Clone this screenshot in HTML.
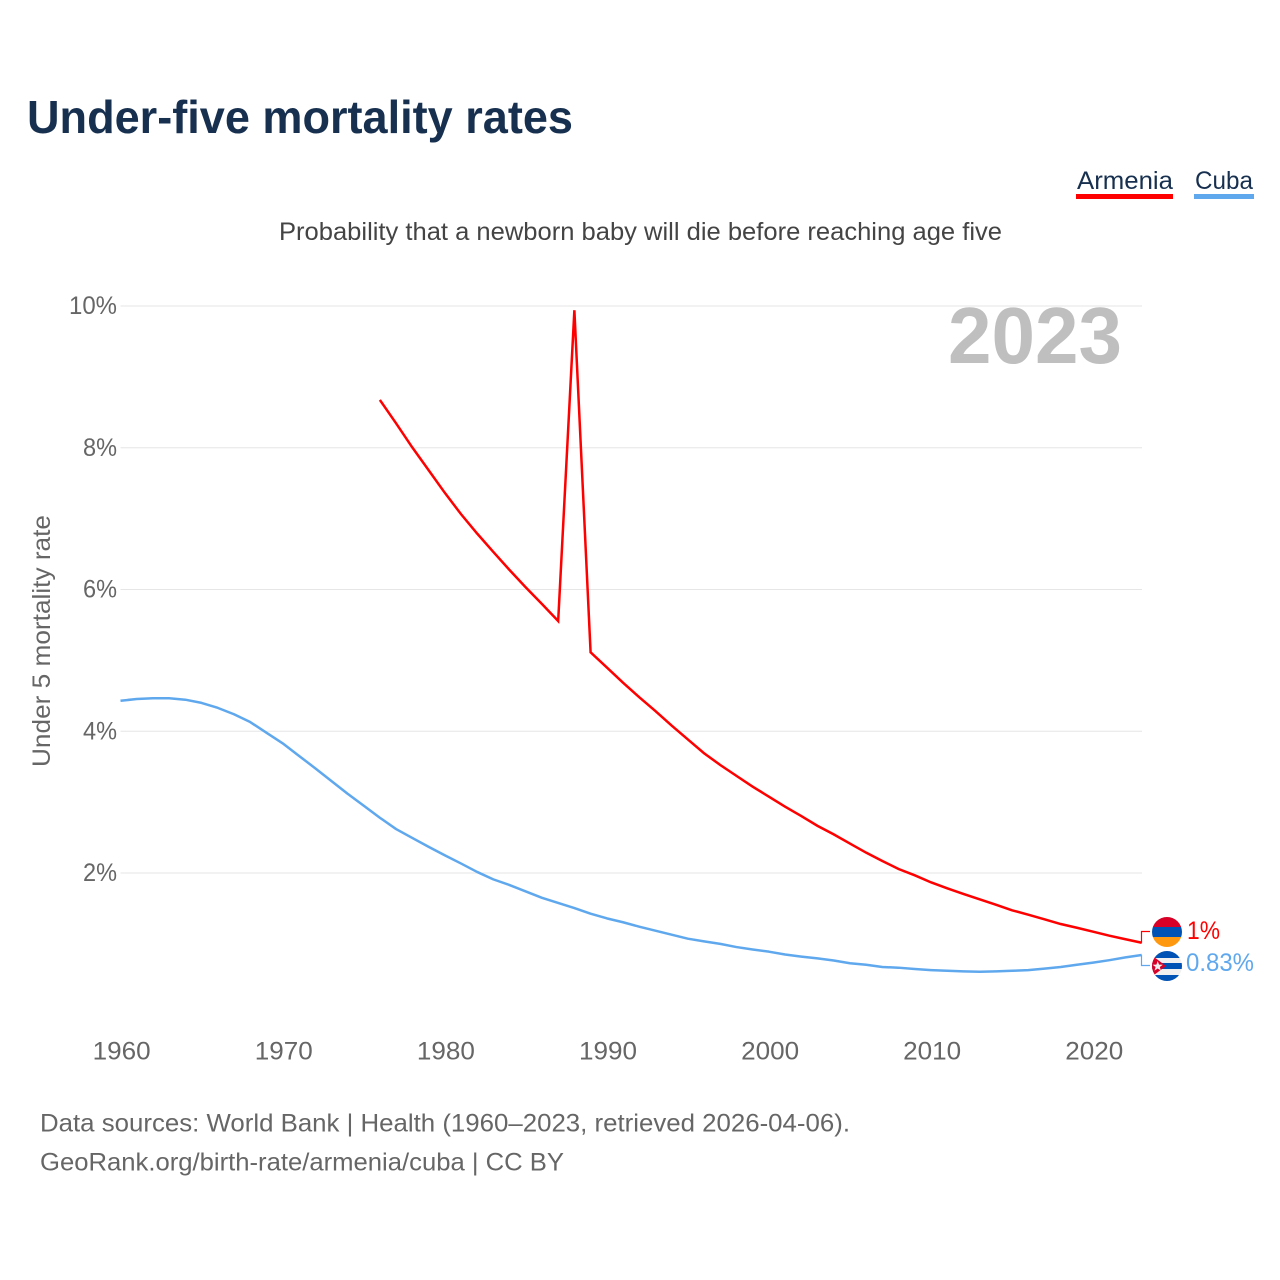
<!DOCTYPE html>
<html lang="en">
<head>
<meta charset="utf-8">
<title>Under-five mortality rates</title>
<style>
html,body{margin:0;padding:0;background:#fff;}
svg{display:block;font-family:"Liberation Sans",sans-serif;}
</style>
</head>
<body>
<svg id="chart" xmlns="http://www.w3.org/2000/svg" width="1280" height="1280" viewBox="0 0 1280 1280">
  <rect x="0" y="0" width="1280" height="1280" fill="#fff"/>
  <text x="27" y="133" font-size="46" font-weight="700" fill="#17304f" textLength="546" lengthAdjust="spacingAndGlyphs">Under-five mortality rates</text>
  <g>
    <text x="1077" y="189" font-size="25" fill="#17304f" textLength="96" lengthAdjust="spacingAndGlyphs">Armenia</text>
    <rect x="1076" y="194" width="97" height="5" fill="#ff0000"/>
  </g>
  <g>
    <text x="1195" y="189" font-size="25" fill="#17304f" textLength="58" lengthAdjust="spacingAndGlyphs">Cuba</text>
    <rect x="1194" y="194" width="60" height="5" fill="#5fa8ee"/>
  </g>
  <text x="279" y="240" font-size="25" fill="#444" textLength="723" lengthAdjust="spacingAndGlyphs">Probability that a newborn baby will die before reaching age five</text>
  <text transform="translate(50,767) rotate(-90)" font-size="25" fill="#666" textLength="252" lengthAdjust="spacingAndGlyphs">Under 5 mortality rate</text>
  <g id="grid"></g>
  <g id="yticks"></g>
  <g id="xticks"></g>
  <text x="1122" y="363" text-anchor="end" font-size="80" font-weight="700" fill="#bfbfbf" textLength="174" lengthAdjust="spacingAndGlyphs">2023</text>
  <g id="series"></g>
  <g id="ends"></g>
  <defs>
    <clipPath id="clip-am"><circle cx="1167" cy="932" r="15"/></clipPath>
    <clipPath id="clip-cu"><circle cx="1167" cy="966" r="15"/></clipPath>
  </defs>
  <g clip-path="url(#clip-am)">
    <rect x="1152" y="917" width="30" height="10" fill="#d80027"/>
    <rect x="1152" y="927" width="30" height="10" fill="#0052b4"/>
    <rect x="1152" y="937" width="30" height="10" fill="#ff9811"/>
  </g>
  <g clip-path="url(#clip-cu)">
    <rect x="1152" y="951" width="30" height="30" fill="#f0f0f0"/>
    <rect x="1152" y="951" width="30" height="7" fill="#0052b4"/>
    <rect x="1152" y="963" width="30" height="6" fill="#0052b4"/>
    <rect x="1152" y="975" width="30" height="6" fill="#0052b4"/>
    <polygon points="1150,954 1166,966 1150,978" fill="#d80027"/>
    <polygon points="1157.7,961 1159,964.6 1162.8,964.7 1159.8,967 1160.9,970.6 1157.7,968.5 1154.5,970.6 1155.6,967 1152.6,964.7 1156.4,964.6" fill="#f0f0f0"/>
  </g>
  <text x="40" y="1131.5" font-size="25" fill="#666" textLength="810" lengthAdjust="spacingAndGlyphs">Data sources: World Bank | Health (1960–2023, retrieved 2026-04-06).</text>
  <text x="40" y="1170.5" font-size="25" fill="#666" textLength="524" lengthAdjust="spacingAndGlyphs">GeoRank.org/birth-rate/armenia/cuba | CC BY</text>
</svg>
<script>
const years = [1960,1961,1962,1963,1964,1965,1966,1967,1968,1969,1970,1971,1972,1973,1974,1975,1976,1977,1978,1979,1980,1981,1982,1983,1984,1985,1986,1987,1988,1989,1990,1991,1992,1993,1994,1995,1996,1997,1998,1999,2000,2001,2002,2003,2004,2005,2006,2007,2008,2009,2010,2011,2012,2013,2014,2015,2016,2017,2018,2019,2020,2021,2022,2023];
const armeniaValues = [null,null,null,null,null,null,null,null,null,null,null,null,null,null,null,null,8.675,8.345,8.005,7.686,7.366,7.065,6.79,6.53,6.275,6.03,5.795,5.555,9.94,5.114,4.9,4.685,4.48,4.285,4.08,3.885,3.69,3.524,3.37,3.218,3.077,2.935,2.804,2.665,2.545,2.415,2.287,2.17,2.056,1.967,1.868,1.784,1.704,1.629,1.553,1.474,1.412,1.347,1.28,1.228,1.172,1.115,1.065,1.016];
const cubaValues = [4.43,4.455,4.465,4.465,4.445,4.4,4.33,4.24,4.13,3.98,3.83,3.655,3.48,3.3,3.12,2.95,2.78,2.62,2.495,2.37,2.25,2.135,2.015,1.91,1.83,1.74,1.65,1.577,1.506,1.426,1.36,1.305,1.243,1.186,1.13,1.073,1.035,1.0,0.955,0.92,0.89,0.85,0.82,0.795,0.765,0.726,0.705,0.674,0.664,0.645,0.63,0.62,0.612,0.607,0.612,0.62,0.63,0.65,0.674,0.705,0.735,0.77,0.81,0.843];
const yTickValues = [2,4,6,8,10];
const xTickValues = [1960,1970,1980,1990,2000,2010,2020];
const armeniaEndLabel = "1%";
const cubaEndLabel = "0.83%";

const NS = "http://www.w3.org/2000/svg";
const xScale = function (year) { return 120.5 + (year - 1960) * 16.21; };
const yScale = function (value) { return 1014.75 - value * 70.875; };

function make(tag, parent, attrs, text) {
  const el = document.createElementNS(NS, tag);
  Object.keys(attrs).forEach(function (k) { el.setAttribute(k, attrs[k]); });
  if (text !== undefined) el.textContent = text;
  parent.appendChild(el);
  return el;
}

function linePath(values) {
  let d = "";
  values.forEach(function (v, i) {
    if (v === null) return;
    d += (d ? "L" : "M") + xScale(years[i]).toFixed(2) + " " + yScale(v).toFixed(2);
  });
  return d;
}

const gridGroup = document.getElementById("grid");
const yGroup = document.getElementById("yticks");
yTickValues.forEach(function (v) {
  const rule = make("line", gridGroup, {x1: xScale(1960), x2: 1142, y1: yScale(v), y2: yScale(v), stroke: "#e6e6e6", "stroke-width": 1});
  
  
  const label = make("text", yGroup, {x: 117, y: yScale(v) + 8, "text-anchor": "end", "font-size": 25, fill: "#666", textLength: v >= 10 ? 48 : 34, lengthAdjust: "spacingAndGlyphs"}, v + "%");
  
  
});

const xGroup = document.getElementById("xticks");
xTickValues.forEach(function (y) {
  const label = make("text", xGroup, {x: xScale(y) + 1.2, y: 1059.5, "text-anchor": "middle", "font-size": 25, fill: "#666", textLength: 58, lengthAdjust: "spacingAndGlyphs"}, String(y));
  
  
});

const seriesGroup = document.getElementById("series");
const armeniaLine = make("path", seriesGroup, {d: linePath(armeniaValues), fill: "none", stroke: "#ff0000", "stroke-width": 2.5, "stroke-linejoin": "miter"});


const cubaLine = make("path", seriesGroup, {d: linePath(cubaValues), fill: "none", stroke: "#5fa8ee", "stroke-width": 2.5, "stroke-linejoin": "round"});



const endsGroup = document.getElementById("ends");
const lastIndex = years.length - 1;
const endX = 1141.5;
const armeniaLeader = make("path", endsGroup, {d: "M" + endX + " " + yScale(armeniaValues[lastIndex]) + "V931.5H1150", fill: "none", stroke: "#ff0000", "stroke-width": 1.2});


const cubaLeader = make("path", endsGroup, {d: "M" + endX + " " + yScale(cubaValues[lastIndex]) + "V965.5H1150", fill: "none", stroke: "#5fa8ee", "stroke-width": 1.2});


const armeniaValueLabel = make("text", endsGroup, {x: 1187, y: 939, "font-size": 25, fill: "#ff0000", textLength: 33, lengthAdjust: "spacingAndGlyphs"}, armeniaEndLabel);


const cubaValueLabel = make("text", endsGroup, {x: 1186, y: 971, "font-size": 25, fill: "#5fa8ee", textLength: 68, lengthAdjust: "spacingAndGlyphs"}, cubaEndLabel);


</script>
</body>
</html>
